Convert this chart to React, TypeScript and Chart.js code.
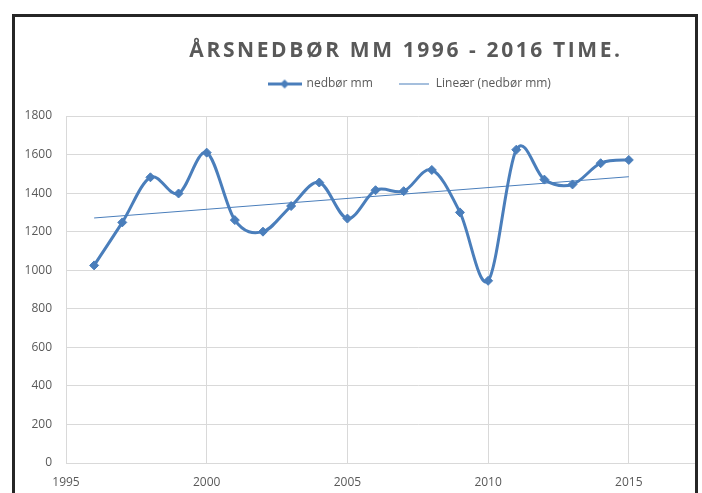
import React, { useEffect, useRef } from 'react';
import { Chart, registerables } from 'chart.js';

Chart.register(...registerables);

const TITLE = 'ÅRSNEDBØR MM 1996 - 2016 TIME.';
const SERIES_LABEL = 'nedbør mm';
const TREND_LABEL = 'Lineær (nedbør mm)';

const years = [1996, 1997, 1998, 1999, 2000, 2001, 2002, 2003, 2004, 2005, 2006, 2007, 2008, 2009, 2010, 2011, 2012, 2013, 2014, 2015];
const precipitation = [1025, 1248, 1482, 1398, 1610, 1260, 1200, 1333, 1455, 1268, 1415, 1410, 1520, 1300, 945, 1625, 1470, 1445, 1555, 1572];

const trendYears = [1996, 2015];
const trendValues = [1271, 1485];

const xTicks = { min: 1995, max: 2020, step: 5 };
const yTicks = { min: 0, max: 1800, step: 200 };

const BLUE = '#4A7EBB';
const GRID = '#D9D9D9';
const TEXT = '#595959';
const FONT = '"Open Sans", "Noto Sans", sans-serif';

function makeLegendImage(width: number, lineWidth: number, marker: boolean): HTMLCanvasElement {
  const c = document.createElement('canvas');
  c.width = width;
  c.height = 13;
  const g = c.getContext('2d')!;
  g.strokeStyle = BLUE;
  g.lineWidth = lineWidth;
  g.beginPath();
  g.moveTo(0, 6.5);
  g.lineTo(width, 6.5);
  g.stroke();
  if (marker) {
    const cx = width / 2;
    const cy = 6.5;
    const r = 4.5;
    g.fillStyle = BLUE;
    g.beginPath();
    g.moveTo(cx, cy - r);
    g.lineTo(cx + r, cy);
    g.lineTo(cx, cy + r);
    g.lineTo(cx - r, cy);
    g.closePath();
    g.fill();
  }
  return c;
}

const spacedTitle = {
  id: 'spacedTitle',
  afterDraw(chart: any) {
    const ctx = chart.ctx as CanvasRenderingContext2D;
    ctx.save();
    ctx.font = 'bold 21px ' + FONT;
    (ctx as any).letterSpacing = '2.6px';
    ctx.fillStyle = TEXT;
    ctx.textAlign = 'center';
    ctx.textBaseline = 'alphabetic';
    ctx.fillText(TITLE, chart.width / 2, 40);
    ctx.restore();
  },
};

// Excel-like smoothing: Catmull-Rom style control points (1/6 of neighbour chord)
const excelSmooth = {
  id: 'excelSmooth',
  beforeDatasetDraw(chart: any, args: any) {
    if (args.index !== 0) return;
    const meta = args.meta;
    const pts = meta.data;
    const n = pts.length;
    for (let i = 0; i < n; i++) {
      const p = pts[i];
      const prev = pts[Math.max(0, i - 1)];
      const next = pts[Math.min(n - 1, i + 1)];
      const dx = (next.x - prev.x) / 6;
      const dy = (next.y - prev.y) / 6;
      p.cp1x = p.x - dx;
      p.cp1y = p.y - dy;
      p.cp2x = p.x + dx;
      p.cp2y = p.y + dy;
    }
    if (meta.dataset) {
      meta.dataset._pointsUpdated = true;
      meta.dataset._path = undefined;
    }
  },
};

export default function App() {
  const canvasRef = useRef<HTMLCanvasElement | null>(null);

  useEffect(() => {
    if (!canvasRef.current) return;
    const seriesImg = makeLegendImage(34, 3, true);
    const trendImg = makeLegendImage(30, 1, false);

    const chart = new Chart(canvasRef.current, {
      type: 'line',
      data: {
        datasets: [
          {
            label: SERIES_LABEL,
            data: years.map((y, i) => ({ x: y, y: precipitation[i] })),
            borderColor: BLUE,
            backgroundColor: BLUE,
            borderWidth: 3,
            tension: 0.5,
            pointStyle: 'rectRot',
            pointRadius: 4.5,
            pointBorderWidth: 1,
            pointBackgroundColor: BLUE,
            pointBorderColor: BLUE,
            fill: false,
          },
          {
            label: TREND_LABEL,
            data: trendYears.map((y, i) => ({ x: y, y: trendValues[i] })),
            borderColor: BLUE,
            backgroundColor: BLUE,
            borderWidth: 1,
            pointRadius: 0,
            tension: 0,
            fill: false,
          },
        ],
      },
      options: {
        animation: false,
        responsive: true,
        maintainAspectRatio: false,
        layout: { padding: { top: 36, left: 35, right: 27.5, bottom: 0 } },
        plugins: {
          title: { display: false },
          subtitle: {
            display: true,
            text: '',
            position: 'top',
            weight: 500,
            padding: 0,
            font: { size: 16, lineHeight: 1 },
          },
          tooltip: { enabled: false },
          legend: {
            display: true,
            position: 'top',
            labels: {
              usePointStyle: true,
              pointStyleWidth: 32,
              padding: 25,
              color: TEXT,
              font: { family: FONT, size: 12 },
              generateLabels: (ch: any) => {
                const items = Chart.defaults.plugins.legend.labels.generateLabels(ch);
                items.forEach((it: any, i: number) => {
                  it.pointStyle = i === 0 ? seriesImg : trendImg;
                });
                return items;
              },
            },
          },
        },
        scales: {
          x: {
            type: 'linear',
            min: xTicks.min,
            max: xTicks.max,
            grid: { color: GRID, lineWidth: 1, drawTicks: false },
            border: { display: true, color: GRID },
            ticks: {
              stepSize: xTicks.step,
              padding: 12,
              color: TEXT,
              font: { family: FONT, size: 12 },
              callback: (v: any) => String(v),
              maxRotation: 0,
            },
            afterFit: (s: any) => {
              s.height = 30;
            },
          },
          y: {
            type: 'linear',
            min: yTicks.min,
            max: yTicks.max,
            grid: { color: GRID, lineWidth: 1, drawTicks: false },
            border: { display: true, color: GRID },
            ticks: {
              stepSize: yTicks.step,
              padding: 14,
              color: TEXT,
              font: { family: FONT, size: 12 },
              callback: (v: any) => String(v),
            },
            afterFit: (s: any) => {
              s.width = 16;
              s._computeLabelArea = () => undefined;
            },
          },
        },
      },
      plugins: [spacedTitle, excelSmooth],
    } as any);

    return () => chart.destroy();
  }, []);

  return (
    <div
      style={{
        position: 'absolute',
        left: 12,
        top: 14,
        width: 680,
        height: 476,
        borderTop: '3px solid #262626',
        borderLeft: '3px solid #262626',
        borderRight: '3px solid #262626',
        borderBottom: 'none',
        overflow: 'hidden',
        background: '#fff',
      }}
    >
      <div style={{ position: 'relative', width: 782, height: 476 }}>
        <canvas ref={canvasRef} />
      </div>
    </div>
  );
}
